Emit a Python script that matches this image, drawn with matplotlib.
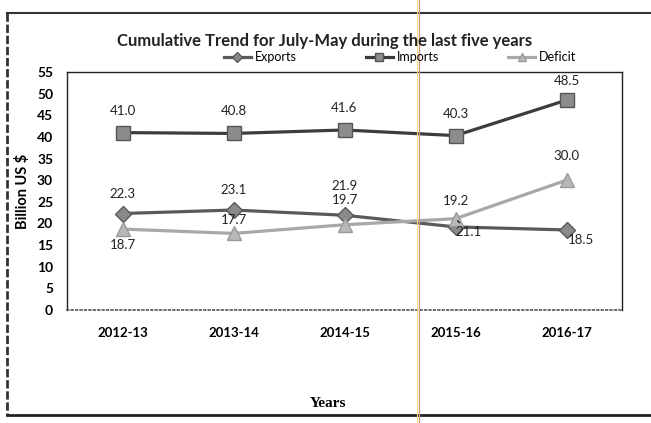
import matplotlib
matplotlib.use("Agg")
import matplotlib.pyplot as plt
from matplotlib.lines import Line2D

years = ["2012-13", "2013-14", "2014-15", "2015-16", "2016-17"]
exports = [22.3, 23.1, 21.9, 19.2, 18.5]
imports = [41.0, 40.8, 41.6, 40.3, 48.5]
deficit = [18.7, 17.7, 19.7, 21.1, 30.0]

# label offsets in pixels (dx, dy)
exp_off = [(0, 20), (0, 20), (0, 29), (0, 26), (14, -10)]
imp_off = [(0, 22), (0, 22), (0, 22), (0, 22), (0, 19)]
def_off = [(0, -16), (0, 13), (0, 25), (13, -13), (0, 24)]

plt.rcParams['font.family'] = ['Lato', 'DejaVu Sans']

fig = plt.figure(figsize=(6.51, 4.23), dpi=100)
ax = fig.add_axes([67/651, 1-310/423, (622-67)/651, (310-72)/423])

x = list(range(len(years)))
c_exp, c_imp, c_def = '#5a5a5a', '#3c3c3c', '#a8a8a8'
ax.plot(x, exports, color=c_exp, lw=2.3, marker='D', ms=8, mfc='#8a8a8a', mec='#5a5a5a', label='Exports', zorder=3)
ax.plot(x, imports, color=c_imp, lw=2.3, marker='s', ms=10, mfc='#8c8c8c', mec='#555555', label='Imports', zorder=3)
ax.plot(x, deficit, color=c_def, lw=2.3, marker='^', ms=10, mfc='#b8b8b8', mec='#9a9a9a', label='Deficit', zorder=3)

fs = 9.5
for xi, v, o in zip(x, imports, imp_off):
    ax.annotate(f"{v:.1f}", (xi, v), xytext=o, textcoords='offset pixels', ha='center', va='center', fontsize=fs, color='#222222')
for xi, v, o in zip(x, exports, exp_off):
    ax.annotate(f"{v:.1f}", (xi, v), xytext=o, textcoords='offset pixels', ha='center', va='center', fontsize=fs, color='#222222')
for i, (xi, v, o) in enumerate(zip(x, deficit, def_off)):
    if i == 3:
        ax.annotate(f"{v:.1f}", (xi, v), xytext=o, textcoords='offset pixels', ha='center', va='center', fontsize=fs, color='#222222',
                    arrowprops=dict(arrowstyle='-', color='black', lw=0.8, shrinkA=5, shrinkB=2))
    else:
        ax.annotate(f"{v:.1f}", (xi, v), xytext=o, textcoords='offset pixels', ha='center', va='center', fontsize=fs, color='#222222')

ax.set_xlim(-0.5, 4.5)
ax.set_ylim(0, 55)
ax.set_yticks(range(0, 56, 5))
ax.set_xticks(x)
ax.set_xticklabels(years, fontweight='bold', fontsize=9.5)
for lbl in ax.get_yticklabels():
    lbl.set_fontweight('bold')
    lbl.set_fontsize(10)
ax.tick_params(length=0, pad=10)
ax.tick_params(axis='x', pad=12)
for s in ['left', 'top', 'right']:
    ax.spines[s].set_color('#222222')
    ax.spines[s].set_linewidth(1.0)
ax.spines['bottom'].set_linestyle(':')
ax.spines['bottom'].set_color('#555555')
ax.spines['bottom'].set_linewidth(1.2)

ax.set_ylabel("Billion US $", fontweight='bold', fontsize=10.5)
ax.yaxis.set_label_coords(-0.066, 0.5)
fig.text(328/651, 1-403/423, "Years", ha='center', va='center', fontsize=11, fontweight='bold', family='Liberation Serif')

fig.text(325/651, 1-41/423, "Cumulative Trend for July-May during the last five years", ha='center', va='center', fontsize=12, fontweight='bold', color='#222222')

fig.legend(loc='center', bbox_to_anchor=(400/651, 1-57/423), ncol=3, frameon=False, fontsize=9,
           columnspacing=5.5, handlelength=2.2, handletextpad=0.3, markerscale=0.6)

# outer frame of the scanned page
fig.add_artist(Line2D([7/651, 7/651], [1-13/423, 1-415/423], color='#333333', lw=2, ls=(0, (3, 1))))
fig.add_artist(Line2D([7/651, 1], [1-13/423, 1-13/423], color='#333333', lw=1.5))
fig.add_artist(Line2D([7/651, 1], [1-415/423, 1-415/423], color='#222222', lw=2))
# scan artifact line
fig.add_artist(Line2D([417/651, 417/651], [0, 1], color='#f2dc80', lw=0.8))
fig.add_artist(Line2D([418.5/651, 418.5/651], [0, 1], color='#d49a80', lw=0.9))

fig.savefig("out.png", dpi=100)
